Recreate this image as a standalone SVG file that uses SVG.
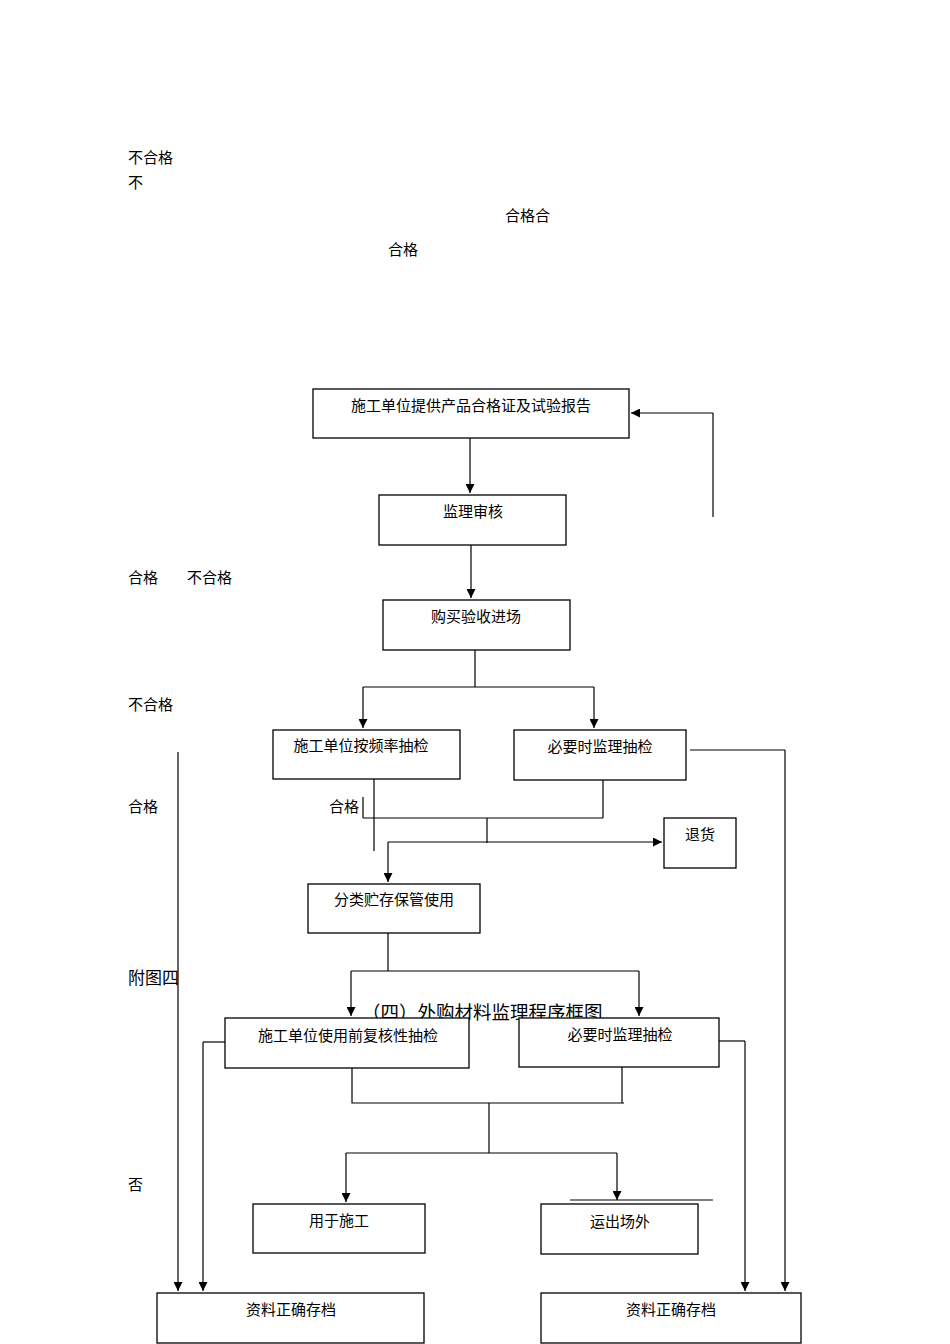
<svg xmlns="http://www.w3.org/2000/svg" width="950" height="1344" viewBox="0 0 950 1344">
<style>
.b{fill:#fff;stroke:#000;stroke-width:1.3}
.t{font-family:"Liberation Serif","Noto Sans CJK SC",serif;font-size:15px;fill:#000}
.c{text-anchor:middle}
.l{fill:none;stroke:#000;stroke-width:1.2}
.a{fill:none;stroke:#000;stroke-width:1.2;marker-end:url(#ar)}
</style>
<defs><marker id="ar" viewBox="0 0 10 10" refX="10" refY="5" markerWidth="9" markerHeight="9" markerUnits="userSpaceOnUse" orient="auto"><path d="M0,0L10,5L0,10z" fill="#000"/></marker></defs>
<rect width="950" height="1344" fill="#fff"/>
<g id="labels" class="t">
<text x="128" y="163">不合格</text>
<text x="128" y="188">不</text>
<text x="505" y="221">合格合</text>
<text x="388" y="255">合格</text>
<text x="128" y="583">合格</text>
<text x="187" y="583">不合格</text>
<text x="128" y="710">不合格</text>
<text x="128" y="812">合格</text>
<text x="329" y="812">合格</text>
<text x="128" y="984" style="font-family:'Noto Sans CJK SC',sans-serif;font-size:17px">附图四</text>
<text x="128" y="1190">否</text>
<text x="362" y="1019" style="font-family:'Noto Sans CJK SC',sans-serif;font-size:18.5px">（四）外购材料监理程序框图</text>
</g>
<g id="connectors">
<path class="a" d="M470,438V493"/>
<path class="l" d="M713,517V413"/><path class="a" d="M713,413H631"/>
<path class="a" d="M471,545V598"/>
<path class="l" d="M475,650V687M363,687H594"/>
<path class="a" d="M363,687V728"/><path class="a" d="M594,687V728"/>
<path class="l" d="M363,797V818M374,779V851M363,818H603M603,780V818M487,818V843"/>
<path class="a" d="M388,842H662"/><path class="a" d="M388,842V882"/>
<path class="l" d="M690,750H785"/><path class="a" d="M785,750V1291"/>
<path class="a" d="M178,752V1291"/>
<path class="l" d="M388,933V971M351,971H639"/>
<path class="a" d="M351,971V1016"/><path class="a" d="M639,971V1016"/>
<path class="l" d="M225,1042H203"/><path class="a" d="M203,1042V1291"/>
<path class="l" d="M719,1041H745"/><path class="a" d="M745,1041V1291"/>
<path class="l" d="M352,1068V1103H624M622,1067V1103M489,1103V1153M346,1153H617"/>
<path class="a" d="M346,1153V1202"/><path class="a" d="M617,1153V1200"/>
<path class="l" d="M570,1200H713"/>
</g>
<g id="n1"><rect class="b" x="313" y="389" width="316" height="49"/><text class="t c" x="471" y="411">施工单位提供产品合格证及试验报告</text></g>
<g id="n2"><rect class="b" x="379" y="495" width="187" height="50"/><text class="t c" x="473" y="517">监理审核</text></g>
<g id="n3"><rect class="b" x="383" y="600" width="187" height="50"/><text class="t c" x="476" y="622">购买验收进场</text></g>
<g id="n4"><rect class="b" x="273" y="730" width="187" height="49"/><text class="t c" x="361" y="751">施工单位按频率抽检</text></g>
<g id="n5"><rect class="b" x="514" y="730" width="172" height="50"/><text class="t c" x="600" y="752">必要时监理抽检</text></g>
<g id="n6"><rect class="b" x="664" y="818" width="72" height="50"/><text class="t c" x="700" y="840">退货</text></g>
<g id="n7"><rect class="b" x="308" y="884" width="172" height="49"/><text class="t c" x="394" y="905">分类贮存保管使用</text></g>
<g id="n8"><rect class="b" x="225" y="1018" width="244" height="50"/><text class="t c" x="348" y="1041">施工单位使用前复核性抽检</text></g>
<g id="n9"><rect class="b" x="519" y="1018" width="200" height="49"/><text class="t c" x="620" y="1040">必要时监理抽检</text></g>
<g id="n10"><rect class="b" x="253" y="1204" width="172" height="49"/><text class="t c" x="339" y="1226">用于施工</text></g>
<g id="n11"><rect class="b" x="541" y="1204" width="157" height="50"/><text class="t c" x="620" y="1227">运出场外</text></g>
<g id="n12"><rect class="b" x="157" y="1293" width="267" height="50"/><text class="t c" x="291" y="1315">资料正确存档</text></g>
<g id="n13"><rect class="b" x="541" y="1293" width="260" height="50"/><text class="t c" x="671" y="1315">资料正确存档</text></g>
</svg>
